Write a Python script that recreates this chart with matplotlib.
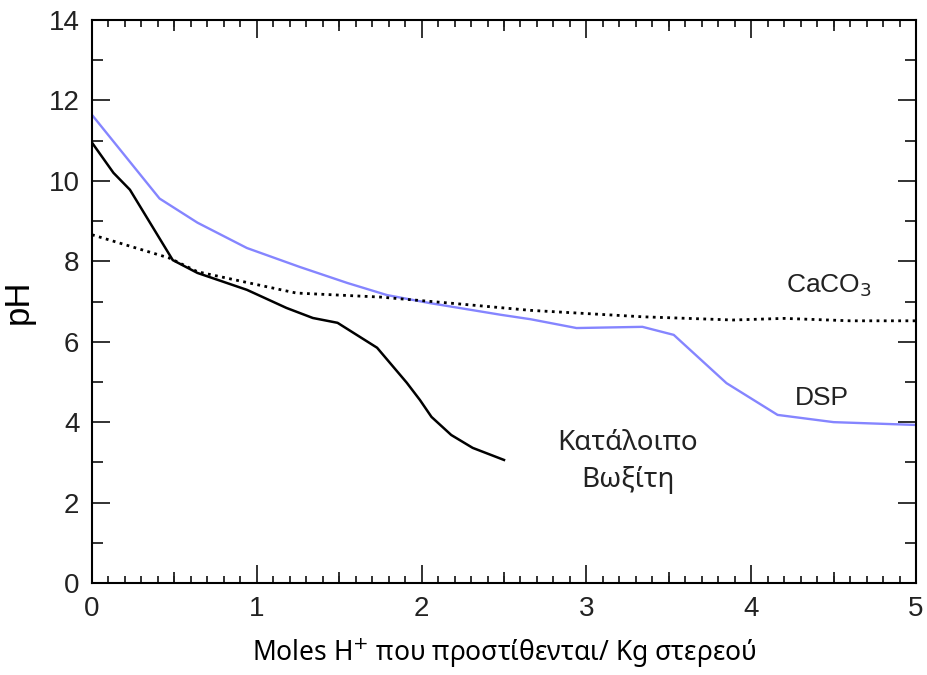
import matplotlib.pyplot as plt
from matplotlib.ticker import MultipleLocator, NullFormatter

# DSP (blue)
dsp_x = [0.0, 0.41, 0.64, 0.94, 1.26, 1.55, 1.79, 2.05, 2.48, 2.66, 2.94, 3.34, 3.53, 3.85, 4.16, 4.50, 5.0]
dsp_y = [11.64, 9.56, 8.96, 8.33, 7.86, 7.46, 7.16, 6.96, 6.67, 6.56, 6.34, 6.37, 6.17, 4.97, 4.18, 4.0, 3.93]

# CaCO3 (dotted)
caco3_x = [0.0, 0.47, 0.64, 1.0, 1.24, 1.75, 2.2, 2.66, 3.34, 3.89, 4.2, 4.6, 5.0]
caco3_y = [8.66, 8.08, 7.74, 7.42, 7.21, 7.11, 6.95, 6.78, 6.62, 6.54, 6.58, 6.52, 6.52]

# bauxite residue (black)
bx_x = [0.0, 0.13, 0.23, 0.49, 0.64, 0.94, 1.18, 1.34, 1.49, 1.73, 1.91, 1.99, 2.06, 2.18, 2.31, 2.50]
bx_y = [10.95, 10.2, 9.78, 8.03, 7.71, 7.29, 6.84, 6.59, 6.47, 5.85, 4.98, 4.55, 4.13, 3.68, 3.36, 3.06]

half_ticks = [0.5, 1.5, 2.5, 3.5, 4.5]

greek = ['Noto Sans', 'DejaVu Sans']
plt.rcParams['font.family'] = ['Liberation Sans', 'DejaVu Sans']

fig = plt.figure(figsize=(9.28, 6.75), dpi=100)
ax = fig.add_axes([92/928, 1-583/675, (916-92)/928, (583-20)/675])

ax.plot(dsp_x, dsp_y, color='#8585ff', lw=1.7)
ax.plot(caco3_x, caco3_y, color='black', lw=2.0, linestyle=(0, (1, 1.6)))
ax.plot(bx_x, bx_y, color='black', lw=1.8)

ax.set_xlim(0, 5)
ax.set_ylim(0, 14)
ax.xaxis.set_major_locator(MultipleLocator(1))
ax.xaxis.set_minor_locator(MultipleLocator(0.1))
ax.yaxis.set_major_locator(MultipleLocator(2))
ax.yaxis.set_minor_locator(MultipleLocator(1))
ax.tick_params(which='both', direction='in', top=True, right=True, width=1.3, labelsize=20, colors='#222222')
ax.tick_params(which='major', length=13, pad=9)
ax.tick_params(axis='x', which='minor', length=5)
ax.tick_params(axis='y', which='minor', length=8)
for s in ax.spines.values():
    s.set_linewidth(1.5)

# medium ticks at the half units
for side in ('bottom', 'top'):
    sec = ax.secondary_xaxis(side)
    sec.set_xticks(half_ticks)
    sec.xaxis.set_major_formatter(NullFormatter())
    sec.tick_params(direction='in', length=8, width=1.3, colors='#222222')
    sec.spines[side].set_visible(False)

ax.text(4.47, 7.38, 'CaCO$_3$', fontsize=19, ha='center', va='center', color='#222222')
ax.text(4.43, 4.6, 'DSP', fontsize=19, ha='center', va='center', color='#222222')
ax.text(3.25, 3.48, 'Κατάλοιπο', fontsize=20, ha='center', va='center', family=greek, color='#222222')
ax.text(3.25, 2.56, 'Βωξίτη', fontsize=20, ha='center', va='center', family=greek, color='#222222')

ax.set_ylabel('pH', fontsize=25, labelpad=10)
ax.set_xlabel('Moles H$^{+}$ που προστίθενται/ Kg στερεού', fontsize=19, family=greek, labelpad=11)

fig.savefig('out.png', dpi=100)
